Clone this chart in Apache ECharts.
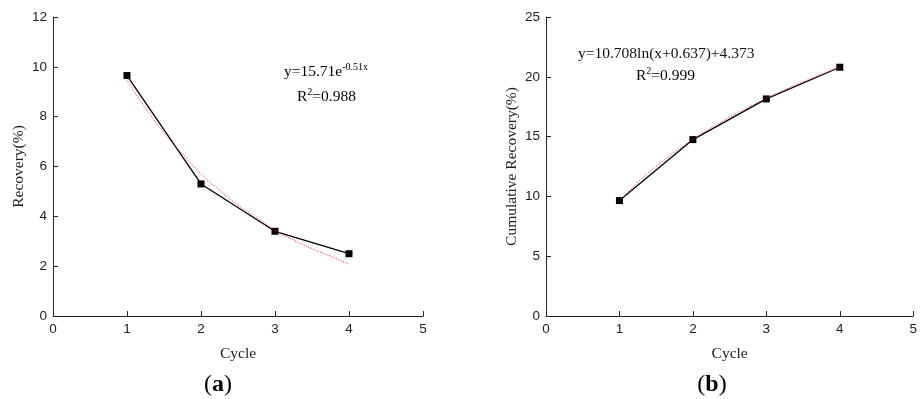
<!DOCTYPE html>
<html>
<head>
<meta charset="utf-8">
<script src="https://cdn.jsdelivr.net/npm/echarts@6/dist/echarts.min.js"></script>
<style>
  html, body { margin: 0; padding: 0; background: #fff; }
  #main { width: 920px; height: 399px; }
</style>
</head>
<body>
<div id="main"></div>
<script>
const cycles = [1, 2, 3, 4];
const recovery = [9.65, 5.3, 3.4, 2.5];
const cumRecovery = [9.65, 14.75, 18.15, 20.8];

// fitted curves (red dotted), sampled every 0.25 cycle
const fitX = [1, 1.25, 1.5, 1.75, 2, 2.25, 2.5, 2.75, 3, 3.25, 3.5, 3.75, 4];
const fitRecovery = [9.45, 8.35, 7.35, 6.5, 5.7, 5.05, 4.45, 3.95, 3.45, 3.05, 2.7, 2.4, 2.08];
const fitCum = [9.65, 11.17, 12.51, 13.69, 14.76, 15.73, 16.62, 17.44, 18.2, 18.91, 19.58, 20.2, 20.8];

const pairs = (xs, ys) => xs.map((x, i) => [x, ys[i]]);

const serif = '"Liberation Serif", "Times New Roman", serif';
const sans = '"Liberation Sans", Arial, sans-serif';

const xAxisBase = (gridIndex) => ({
  type: 'value', gridIndex: gridIndex,
  min: 0, max: 5, interval: 1,
  name: 'Cycle', nameLocation: 'middle', nameGap: 30,
  nameTextStyle: { fontFamily: serif, fontSize: 15.5, color: '#222' },
  axisLine: { show: true, lineStyle: { color: '#222', width: 1 } },
  axisTick: { show: true, inside: true, length: 5, lineStyle: { color: '#222' } },
  axisLabel: { fontFamily: sans, fontSize: 13.5, color: '#222', margin: 6 },
  splitLine: { show: false }
});

const yAxisBase = (gridIndex, max, interval, name) => ({
  type: 'value', gridIndex: gridIndex,
  min: 0, max: max, interval: interval,
  name: name, nameLocation: 'middle', nameGap: 26,
  nameTextStyle: { fontFamily: serif, fontSize: 15.5, color: '#222' },
  axisLine: { show: true, lineStyle: { color: '#222', width: 1 } },
  axisTick: { show: true, inside: true, length: 5, lineStyle: { color: '#222' } },
  axisLabel: { fontFamily: sans, fontSize: 13.5, color: '#222', margin: 6 },
  splitLine: { show: false }
});

const eqRich = {
  t: { fontFamily: serif, fontSize: 15.5, color: '#111' },
  s: { fontFamily: serif, fontSize: 10, color: '#111', padding: [0, 0, 9, 0] }
};

const captionRich = {
  p: { fontFamily: serif, fontSize: 24, color: '#111' },
  b: { fontFamily: serif, fontSize: 24, fontWeight: 'bold', color: '#111' }
};

const chart = echarts.init(document.getElementById('main'));

const option = {
  animation: false,
  backgroundColor: '#fff',
  grid: [
    { left: 53, right: 497, top: 17, bottom: 83 },
    { left: 546, right: 4, top: 17, bottom: 83 }
  ],
  xAxis: [xAxisBase(0), xAxisBase(1)],
  yAxis: [
    yAxisBase(0, 12, 2, 'Recovery(%)'),
    yAxisBase(1, 25, 5, 'Cumulative Recovery(%)')
  ],
  series: [
    {
      type: 'line', xAxisIndex: 0, yAxisIndex: 0,
      data: pairs(fitX, fitRecovery), smooth: true, showSymbol: false, z: 3,
      lineStyle: { color: '#ff2020', width: 1, type: [1, 1.5] }
    },
    {
      type: 'line', xAxisIndex: 0, yAxisIndex: 0,
      data: pairs(cycles, recovery), symbol: 'rect', symbolSize: 7, z: 2,
      itemStyle: { color: '#000' },
      lineStyle: { color: '#000', width: 1.3 }
    },
    {
      type: 'line', xAxisIndex: 1, yAxisIndex: 1,
      data: pairs(fitX, fitCum), smooth: true, showSymbol: false, z: 3,
      lineStyle: { color: '#ff2020', width: 1, type: [1, 1.5] }
    },
    {
      type: 'line', xAxisIndex: 1, yAxisIndex: 1,
      data: pairs(cycles, cumRecovery), symbol: 'rect', symbolSize: 7, z: 2,
      itemStyle: { color: '#000' },
      lineStyle: { color: '#000', width: 1.3 }
    }
  ],
  graphic: [
    {
      type: 'text', left: 284, top: 62,
      style: { text: '{t|y=15.71e}{s|-0.51x}', rich: eqRich }
    },
    {
      type: 'text', left: 297, top: 87,
      style: { text: '{t|R}{s|2}{t|=0.988}', rich: eqRich }
    },
    {
      type: 'text', left: 578, top: 46,
      style: { text: 'y=10.708ln(x+0.637)+4.373', fontFamily: serif, fontSize: 15.5, fill: '#111' }
    },
    {
      type: 'text', left: 636, top: 66,
      style: { text: '{t|R}{s|2}{t|=0.999}', rich: eqRich }
    },
    {
      type: 'text', x: 218, y: 385,
      style: { text: '{p|(}{b|a}{p|)}', align: 'center', verticalAlign: 'middle', rich: captionRich }
    },
    {
      type: 'text', x: 712, y: 385,
      style: { text: '{p|(}{b|b}{p|)}', align: 'center', verticalAlign: 'middle', rich: captionRich }
    }
  ]
};

chart.setOption(option);
</script>
</body>
</html>
